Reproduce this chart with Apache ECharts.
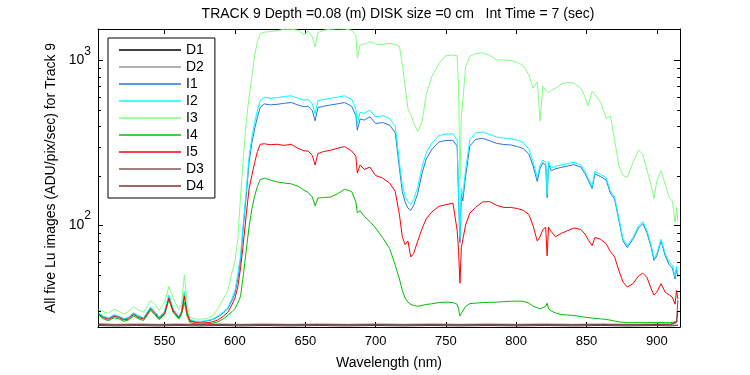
<!DOCTYPE html>
<html>
<head>
<meta charset="utf-8">
<script src="https://cdn.jsdelivr.net/npm/echarts@6/dist/echarts.min.js"></script>
<style>
  html, body { margin: 0; padding: 0; background: #fff; }
  #main { width: 750px; height: 375px; }
</style>
</head>
<body>
<div id="main"></div>
<script>
// wavelength (nm) for the light spectra
var W = [503, 506, 510, 514, 517, 521, 524, 528, 531, 535, 540, 543, 546, 550, 553, 556, 560, 562, 564, 566,
	568, 572, 576, 580, 584, 588, 592, 595, 598, 600, 602, 604, 606, 608, 610, 612, 614, 616, 618, 621,
	625, 630, 635, 640, 645, 649, 652, 655, 657, 659, 663, 668, 673, 678, 683, 686, 687, 689, 692, 696,
	700, 705, 710, 714, 717, 719, 721, 723, 725, 727, 730, 733, 736, 740, 745, 750, 755, 758, 759, 760,
	761, 762, 764, 767, 771, 776, 781, 786, 791, 796, 801, 805, 809, 812, 815, 817, 819, 821, 822, 823,
	825, 828, 832, 836, 841, 846, 849, 851, 854, 856, 860, 864, 867, 870, 873, 876, 879, 883, 887, 890,
	893, 896, 898, 900, 903, 906, 909, 911, 913, 914, 915];

var I1 = [28.8, 27.8, 27, 28.2, 27.8, 26.8, 27.2, 29, 28, 27.1, 31.2, 29.5, 27.4, 29.6, 37, 30.6, 27.6, 29.7, 38.5, 29.2,
	26.4, 25.8, 25.8, 26.1, 26.6, 27.7, 29.4, 31, 35, 38.5, 47, 62, 98, 150, 240, 315, 385, 455, 520, 545,
	538, 542, 550, 556, 537, 523, 528, 497, 430, 518, 528, 537, 546, 556, 528, 462, 377, 441, 435, 455,
	414, 420, 405, 364, 220, 160, 138, 127, 123, 131, 156, 206, 252, 288, 320, 327, 327, 302, 146, 78,
	154, 140, 197, 302, 331, 337, 326, 314, 309, 307, 300, 292, 270, 229, 184, 222, 239, 231, 147, 234,
	214, 220, 224, 228, 233, 225, 205, 189, 167, 205, 197, 188, 156, 144, 107, 80, 73, 82, 96, 102,
	90, 73, 61, 65, 80, 65, 57, 55, 47, 54, 48.5];

var I2 = [29.2, 28, 27.2, 28.5, 28, 27, 27.4, 29.3, 28.2, 27.3, 31.8, 29.8, 27.6, 30, 37.5, 31, 27.8, 30, 39.5, 29.5,
	26.6, 26, 26, 26.3, 26.8, 28, 29.8, 31.5, 36, 40, 50, 66, 105, 160, 260, 340, 420, 500, 570, 600,
	590, 595, 605, 611, 590, 575, 580, 545, 474, 570, 580, 590, 600, 611, 580, 508, 414, 485, 478, 500,
	455, 462, 445, 400, 240, 175, 150, 138, 134, 143, 170, 225, 275, 315, 350, 358, 358, 330, 160, 85,
	168, 153, 215, 330, 362, 368, 356, 343, 338, 336, 328, 318, 290, 243, 195, 232, 249, 240, 153, 243,
	222, 228, 232, 236, 241, 232, 212, 195, 172, 212, 203, 194, 161, 148, 110, 82, 75, 84, 99, 105,
	93, 75, 63, 67, 82, 67, 59, 57, 48.6, 56, 50];

var I3 = [30.6, 29.8, 29.2, 30.8, 30, 28.8, 29.8, 31.8, 30.5, 29.5, 34.7, 33, 30.3, 34, 42.3, 36, 30.6, 33, 49.7, 33,
	27.5, 26.8, 26.8, 27, 28, 31, 36, 40, 52, 60, 82, 150, 260, 420, 600, 800, 1080, 1300, 1460, 1490,
	1500, 1520, 1550, 1550, 1530, 1440, 1510, 1400, 1210, 1480, 1530, 1550, 1560, 1555, 1530, 1420, 1040, 1240, 1260, 1300,
	1260, 1250, 1275, 1250, 1220, 950, 700, 510, 470, 420, 370, 420, 620, 800, 960, 1070, 1080, 1070, 700, 190,
	460, 560, 920, 1060, 1100, 1115, 1080, 1010, 1010, 1000, 975, 930, 820, 680, 740, 430, 700, 660, 650, 640,
	660, 680, 720, 735, 730, 680, 600, 530, 650, 620, 560, 445, 460, 330, 230, 200, 195, 240, 285, 270,
	215, 175, 145, 185, 215, 176, 146, 140, 104, 128, 105];

var I4 = [28.5, 27, 26.2, 27.3, 27, 26, 26.4, 28, 27, 26.3, 30.3, 28.5, 26.6, 28.5, 35.2, 29.5, 26.8, 28.5, 33.9, 28,
	25.5, 25.1, 25, 25.1, 25.3, 25.8, 27, 28.3, 29.8, 31, 33.5, 37, 50, 70, 97, 125, 150, 172, 189, 193,
	188, 183, 180, 178, 172, 163, 158, 148, 131, 146, 147, 148, 155, 165, 160, 138, 119, 122, 113, 105,
	96, 84, 72, 57, 47, 40, 36, 34, 33, 32.5, 32.1, 32.5, 32.9, 33.2, 33.8, 34, 33.8, 33, 31, 28,
	29, 30, 32, 33.3, 33.5, 33.8, 33.9, 34, 34.2, 34.4, 34.5, 34.4, 33.5, 32.1, 31.4, 31, 31.5, 32, 33.5, 31,
	30, 29.2, 28.6, 28.4, 28.2, 27.8, 27.5, 27.4, 27.2, 27.1, 26.9, 26.7, 26.4, 26.1, 25.8, 25.6, 25.5, 25.5, 25.6, 25.5,
	25.5, 25.6, 25.5, 25.5, 25.6, 25.5, 25.5, 25.6, 25.7, 26, 26.1];

var I5 = [28.8, 27.5, 26.7, 27.8, 27.5, 26.5, 26.8, 28.6, 27.5, 26.8, 30.9, 29, 27, 29, 36, 30, 27.3, 29, 36.9, 29,
	26.1, 25.5, 25.4, 25.5, 25.8, 26.5, 28, 29.5, 33, 36, 42, 55, 78, 115, 165, 200, 240, 280, 310, 312,
	308, 310, 305, 310, 292, 283, 282, 265, 232, 272, 280, 285, 293, 300, 282, 262, 207, 232, 218, 225,
	200, 193, 180, 160, 115, 85, 76, 80, 64, 67, 80, 95, 109, 120, 130, 133, 136, 93, 70, 44.3,
	73, 72, 100, 118, 128, 138, 139, 132, 128, 128, 126, 123, 116, 99, 80, 85, 94, 97, 65, 97,
	91, 85, 89, 92, 96, 94, 88, 82, 75, 84, 82, 77, 69, 64, 53, 45, 42, 44, 49, 51,
	48, 41, 37.5, 39, 44, 39, 37.5, 36.5, 33, 40, 35.5];

// wavelength (nm) for the dark frames
var DW = [503, 515, 530, 545, 560, 575, 590, 605, 620, 640, 660, 680, 700, 720, 740, 760, 780, 800, 820, 840, 860, 880, 900, 910, 914, 915];
var D1 = [24.5, 24.4, 24.5, 24.4, 24.5, 24.4, 24.5, 24.4, 24.5, 24.4, 24.5, 24.4, 24.5, 24.4, 24.5, 24.4, 24.5, 24.4, 24.5, 24.4, 24.5, 24.4, 24.5, 24.4, 24.5, 24.6];
var D2 = [24.7, 24.6, 24.7, 24.6, 24.7, 24.6, 24.7, 24.6, 24.7, 24.6, 24.7, 24.6, 24.7, 24.6, 24.7, 24.6, 24.7, 24.6, 24.7, 24.6, 24.7, 24.6, 24.7, 24.6, 24.7, 24.8];
var D3 = [25.1, 24.9, 25, 24.9, 25, 24.9, 25, 24.9, 25, 24.9, 25, 24.9, 25, 24.9, 25, 24.9, 25, 24.9, 25, 24.9, 25, 24.9, 25, 25, 26, 35];
var D4 = [24.8, 24.7, 24.8, 24.7, 24.8, 24.7, 24.8, 24.7, 24.8, 24.7, 24.8, 24.7, 24.8, 24.7, 24.8, 24.7, 24.8, 24.7, 24.8, 24.7, 24.8, 24.7, 24.8, 24.8, 25.5, 30];

var X_TICKS = [550, 600, 650, 700, 750, 800, 850, 900];
var Y_MINOR = [30, 40, 50, 60, 70, 80, 90, 200, 300, 400, 500, 600, 700, 800, 900];
var X_MIN = 502.6, X_MAX = 916.5, Y_MIN = 24, Y_MAX = 1556;

var FONT = 'Liberation Sans';
var chart = echarts.init(document.getElementById('main'));

function pairs(xs, ys) {
	return xs.map(function (x, i) { return [x, ys[i]]; });
}
function lineSeries(name, color, xs, ys) {
	return {
		name: name,
		type: 'line',
		data: pairs(xs, ys),
		showSymbol: false,
		symbol: 'none',
		lineStyle: { color: color, width: 1 },
		itemStyle: { color: color },
		z: 3
	};
}

var option = {
	animation: false,
	backgroundColor: '#fff',
	textStyle: { fontFamily: FONT },
	graphic: [{
		type: 'text',
		x: 398, y: 14,
		style: {
			text: 'TRACK 9 Depth =0.08 (m) DISK size =0 cm   Int Time = 7 (sec)',
			font: '14px ' + FONT,
			fill: '#000',
			align: 'center',
			verticalAlign: 'middle'
		}
	}],
	grid: { left: 98, right: 70, top: 29, bottom: 44 },
	legend: {
		orient: 'vertical',
		left: 108,
		top: 38,
		padding: [5, 11, 5, 11],
		itemGap: 3,
		itemWidth: 62,
		itemHeight: 1.5,
		icon: 'rect',
		borderColor: '#000',
		borderWidth: 1,
		backgroundColor: '#fff',
		textStyle: { fontFamily: FONT, fontSize: 14, color: '#000' },
		data: ['D1', 'D2', 'I1', 'I2', 'I3', 'I4', 'I5', 'D3', 'D4']
	},
	xAxis: [{
		type: 'value',
		min: X_MIN,
		max: X_MAX,
		name: 'Wavelength (nm)',
		nameLocation: 'middle',
		nameGap: 29,
		nameTextStyle: { fontFamily: FONT, fontSize: 14, color: '#000' },
		axisLine: { show: true, lineStyle: { color: '#000', width: 1 } },
		axisTick: { inside: true, length: 5, customValues: X_TICKS, lineStyle: { color: '#000' } },
		axisLabel: { customValues: X_TICKS, margin: 8, fontFamily: FONT, fontSize: 13, color: '#000' },
		splitLine: { show: false }
	}, {
		type: 'value',
		position: 'top',
		min: X_MIN,
		max: X_MAX,
		axisLine: { show: true, lineStyle: { color: '#000', width: 1 } },
		axisTick: { inside: true, length: 5, customValues: X_TICKS, lineStyle: { color: '#000' } },
		axisLabel: { show: false },
		splitLine: { show: false }
	}],
	yAxis: [{
		type: 'log',
		logBase: 10,
		min: Y_MIN,
		max: Y_MAX,
		name: 'All five Lu images (ADU/pix/sec) for Track 9',
		nameLocation: 'middle',
		nameGap: 32,
		nameTextStyle: { fontFamily: FONT, fontSize: 14, color: '#000' },
		axisLine: { show: true, lineStyle: { color: '#000', width: 1 } },
		axisTick: { inside: true, length: 5, lineStyle: { color: '#000' } },
		axisLabel: {
			margin: 7,
			showMinLabel: false,
			showMaxLabel: false,
			formatter: function (v) {
				var e = Math.round(Math.log10(v));
				if (Math.abs(Math.log10(v) - e) > 1e-6) return '';
				return '{b|10}{s|' + e + '}';
			},
			rich: {
				b: { fontFamily: FONT, fontSize: 14, color: '#000' },
				s: { fontFamily: FONT, fontSize: 12, color: '#000', padding: [0, 0, 18, 0] }
			}
		},
		splitLine: { show: false }
	}, {
		type: 'log',
		logBase: 10,
		position: 'right',
		min: Y_MIN,
		max: Y_MAX,
		axisLine: { show: true, lineStyle: { color: '#000', width: 1 } },
		axisTick: { inside: true, length: 6, lineStyle: { color: '#000' } },
		axisLabel: { show: false },
		splitLine: { show: false }
	}],
	series: [
		lineSeries('D1', '#000000', DW, D1),
		lineSeries('D2', '#999999', DW, D2),
		lineSeries('I1', '#2277dd', W, I1),
		lineSeries('I2', '#00ffff', W, I2),
		lineSeries('I3', '#80ff80', W, I3),
		lineSeries('I4', '#00c000', W, I4),
		lineSeries('I5', '#ff0000', W, I5),
		lineSeries('D3', '#855555', DW, D3),
		lineSeries('D4', '#803535', DW, D4),
		{
			// minor log ticks on both sides of the box
			type: 'custom',
			silent: true,
			data: Y_MINOR.map(function (v) { return [X_MIN, v]; }),
			encode: { x: 0, y: 1 },
			clip: false,
			z: 5,
			renderItem: function (params, api) {
				var v = api.value(1);
				var l = api.coord([X_MIN, v]);
				var r = api.coord([X_MAX, v]);
				var y = Math.round(l[1]) + 0.5;
				return {
					type: 'group',
					children: [
						{ type: 'line', shape: { x1: l[0], y1: y, x2: l[0] + 3, y2: y }, style: { stroke: '#000', lineWidth: 1 } },
						{ type: 'line', shape: { x1: r[0] - 3, y1: y, x2: r[0], y2: y }, style: { stroke: '#000', lineWidth: 1 } }
					]
				};
			}
		}
	]
};
chart.setOption(option);
</script>
</body>
</html>
